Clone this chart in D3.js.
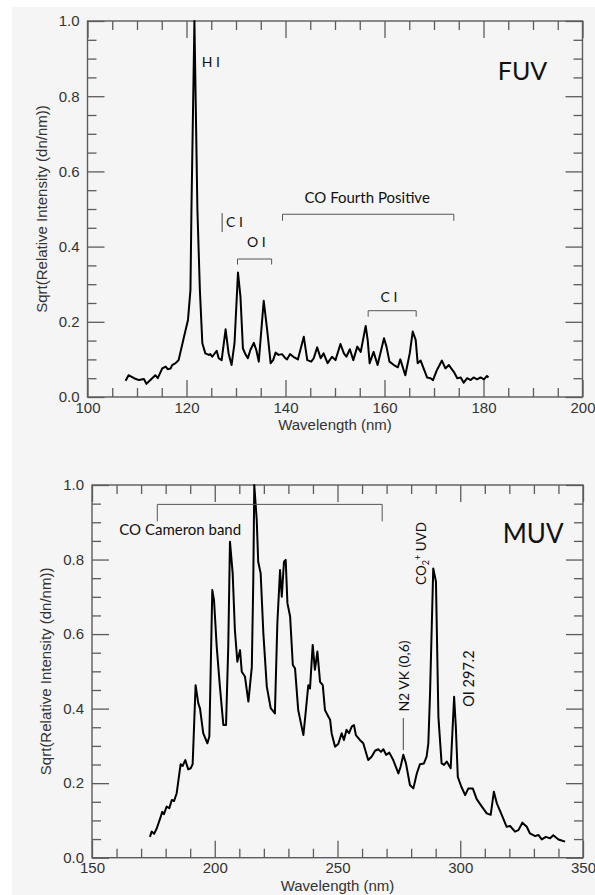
<!DOCTYPE html>
<html>
<head>
<meta charset="utf-8">
<script src="https://cdn.jsdelivr.net/npm/d3@7"></script>
<style>
	body { margin: 0; background: #fff; }
	svg { display: block; }
	.tick text { font-family: "Liberation Sans", Arial, sans-serif; font-size: 15px; fill: #333; }
	.tick line { stroke: #5c5c5c; stroke-width: 1.3; }
	.note { font-family: Lato, "Open Sans", sans-serif; fill: #111; }
</style>
</head>
<body>
<script>

// FUV spectrum
var fuvWave = [107.7, 108.3, 109.4, 110.4, 111.4, 111.9, 112.7, 113.7, 114.2, 115.1, 115.8, 116.2, 116.8, 117.1, 117.8, 118.4, 119.5, 120.3, 120.8, 121.0, 121.6, 122.2, 122.7, 123.2, 123.8, 124.5, 124.8, 125.2, 126.1, 126.5, 127.1, 127.9, 128.5, 129.1, 129.7, 130.4, 130.9, 131.4, 131.9, 132.4, 132.9, 133.6, 134.1, 134.6, 135.6, 136.3, 137.0, 137.5, 138.0, 138.6, 139.3, 140.0, 140.3, 140.9, 141.6, 142.5, 143.7, 144.4, 145.2, 145.7, 146.4, 147.1, 147.7, 148.5, 149.4, 150.1, 151.1, 151.8, 152.3, 153.0, 153.7, 154.5, 155.2, 156.2, 156.6, 157.0, 157.8, 158.6, 159.9, 160.4, 161.0, 161.9, 162.7, 163.2, 164.2, 165.1, 165.7, 166.3, 166.7, 167.3, 167.9, 168.6, 169.3, 169.8, 170.6, 171.6, 172.3, 173.0, 174.0, 174.7, 175.4, 176.0, 176.7, 177.4, 178.0, 178.7, 179.4, 180.1, 180.7, 181.0];
var fuvValue = [0.043, 0.058, 0.050, 0.045, 0.048, 0.035, 0.045, 0.058, 0.050, 0.076, 0.081, 0.074, 0.076, 0.085, 0.090, 0.098, 0.160, 0.205, 0.285, 0.50, 1.00, 0.50, 0.285, 0.143, 0.116, 0.112, 0.114, 0.107, 0.123, 0.103, 0.098, 0.180, 0.116, 0.085, 0.143, 0.331, 0.267, 0.129, 0.114, 0.103, 0.125, 0.144, 0.125, 0.094, 0.256, 0.178, 0.090, 0.098, 0.118, 0.112, 0.114, 0.103, 0.100, 0.114, 0.107, 0.100, 0.160, 0.098, 0.094, 0.103, 0.132, 0.103, 0.116, 0.090, 0.107, 0.098, 0.141, 0.116, 0.107, 0.127, 0.098, 0.134, 0.120, 0.189, 0.152, 0.090, 0.120, 0.085, 0.156, 0.134, 0.094, 0.085, 0.079, 0.100, 0.058, 0.116, 0.174, 0.152, 0.090, 0.097, 0.076, 0.052, 0.050, 0.045, 0.072, 0.097, 0.076, 0.085, 0.067, 0.050, 0.052, 0.038, 0.050, 0.045, 0.052, 0.047, 0.052, 0.047, 0.056, 0.052];

// MUV spectrum
var muvWave = [173.6, 174.3, 175.3, 176.4, 177.8, 178.6, 179.3, 180.4, 181.5, 182.5, 183.4, 184.5, 186.1, 186.9, 188.0, 189.2, 190.2, 191.0, 192.2, 193.3, 194.0, 195.3, 197.0, 197.8, 199.0, 199.7, 200.8, 202.1, 203.5, 204.6, 205.5, 206.2, 207.3, 208.2, 209.2, 210.3, 211.0, 212.3, 213.7, 215.1, 215.7, 216.1, 217.1, 217.7, 218.7, 219.8, 221.2, 222.8, 224.5, 225.5, 226.6, 227.3, 228.2, 228.9, 229.6, 230.7, 231.8, 232.7, 234.0, 236.1, 237.0, 238.1, 238.8, 239.9, 240.8, 241.8, 242.9, 244.0, 244.9, 246.3, 247.0, 247.6, 249.0, 250.3, 251.7, 252.6, 253.7, 254.7, 255.8, 256.7, 257.5, 259.1, 260.5, 262.5, 263.9, 265.3, 266.6, 267.7, 268.7, 269.8, 271.1, 272.7, 274.8, 275.7, 276.8, 277.9, 279.5, 280.9, 282.3, 283.6, 285.2, 286.3, 287.0, 287.7, 289.0, 290.1, 291.1, 292.4, 293.4, 294.5, 296.1, 297.5, 298.2, 299.0, 300.4, 302.0, 303.3, 305.1, 306.7, 308.8, 310.8, 312.4, 313.7, 314.9, 316.9, 318.9, 320.3, 322.3, 323.7, 325.3, 327.1, 328.4, 330.5, 331.8, 333.2, 334.9, 336.6, 337.9, 340.0, 341.3, 342.7];
var muvValue = [0.056, 0.070, 0.064, 0.079, 0.106, 0.123, 0.117, 0.137, 0.133, 0.155, 0.152, 0.173, 0.251, 0.246, 0.262, 0.237, 0.240, 0.251, 0.463, 0.414, 0.400, 0.334, 0.307, 0.325, 0.718, 0.691, 0.566, 0.459, 0.356, 0.356, 0.566, 0.848, 0.763, 0.611, 0.526, 0.557, 0.499, 0.486, 0.419, 0.512, 0.745, 1.000, 0.906, 0.794, 0.763, 0.602, 0.459, 0.401, 0.387, 0.629, 0.772, 0.700, 0.794, 0.799, 0.683, 0.647, 0.517, 0.508, 0.396, 0.329, 0.387, 0.463, 0.454, 0.571, 0.504, 0.553, 0.472, 0.463, 0.396, 0.378, 0.370, 0.334, 0.298, 0.305, 0.334, 0.316, 0.343, 0.334, 0.352, 0.356, 0.329, 0.316, 0.307, 0.262, 0.271, 0.287, 0.291, 0.284, 0.291, 0.276, 0.282, 0.262, 0.226, 0.244, 0.276, 0.253, 0.195, 0.186, 0.226, 0.251, 0.253, 0.271, 0.307, 0.441, 0.776, 0.741, 0.378, 0.253, 0.249, 0.258, 0.240, 0.432, 0.351, 0.217, 0.191, 0.168, 0.186, 0.186, 0.157, 0.137, 0.119, 0.115, 0.177, 0.146, 0.115, 0.083, 0.085, 0.070, 0.074, 0.094, 0.083, 0.065, 0.058, 0.061, 0.049, 0.056, 0.052, 0.060, 0.049, 0.046, 0.043];

var yTicks = [0, 0.2, 0.4, 0.6, 0.8, 1.0];
var fuvTicks = [100, 120, 140, 160, 180, 200];
var muvTicks = [150, 200, 250, 300, 350];

var width = 595,
	height = 895;

var svg = d3.select('body')
	.append('svg')
	.attr('width', width)
	.attr('height', height);

svg.append('rect')
	.attr('x', 12)
	.attr('y', 7)
	.attr('width', width - 12)
	.attr('height', height - 7)
	.attr('fill', '#f5f5f5');

var fuv = drawPanel({
	wave: fuvWave, value: fuvValue, ticks: fuvTicks, minorStep: 5,
	left: 87.5, right: 582.5, top: 21, bottom: 397
});

var muv = drawPanel({
	wave: muvWave, value: muvValue, ticks: muvTicks, minorStep: 10,
	left: 92, right: 583, top: 485, bottom: 857.7
});

// FUV notes
note(fuv, 'H I', 123.1, 0.878, 14, 'start');
note(fuv, 'FUV', 182.9, 0.843, 25, 'start');
vbar(fuv, 127.2, 0.439, 0.489);
note(fuv, 'C I', 128.0, 0.453, 14, 'start');
note(fuv, 'O I', 132.2, 0.400, 14, 'start');
bracket(fuv, 130.3, 137.2, 0.367, 5.5);
note(fuv, 'CO Fourth Positive', 156.5, 0.516, 15, 'middle');
bracket(fuv, 139.4, 174.0, 0.486, 6.5);
note(fuv, 'C I', 159.2, 0.253, 14, 'start');
bracket(fuv, 156.7, 166.4, 0.2295, 6);

// MUV notes
bracket(muv, 176.6, 268.2, 0.948, 17);
note(muv, 'CO Cameron band', 161.1, 0.866, 15, 'start');
note(muv, 'MUV', 317.3, 0.844, 26, 'start');
vnote(muv, [['N2 VK (0,6)']], 279.0, 0.392, 14);
vbar(muv, 276.8, 0.289, 0.375);
vnote(muv, [['OI 297.2']], 305.8, 0.405, 14.5);
vnote(muv, [['CO'], ['2', 3.5], ['+', -8], [' UVD', 4.5]], 286.0, 0.732, 13.5);

function drawPanel(p) {
	var g = svg.append('g');

	var x = d3.scaleLinear()
		.domain([p.ticks[0], p.ticks[p.ticks.length - 1]])
		.range([p.left, p.right]);
	var y = d3.scaleLinear()
		.domain([0, 1])
		.range([p.bottom, p.top]);

	var minorX = d3.range(x.domain()[0], x.domain()[1] + 0.1, p.minorStep)
		.filter(function(d) { return p.ticks.indexOf(d) < 0; });
	var minorY = d3.range(0, 1.01, 0.05)
		.filter(function(d) { return Math.round(d * 100) % 20 != 0; });

	// major + minor ticks on all four sides, pointing inward
	addAxis(d3.axisBottom(x).tickValues(p.ticks).tickSizeInner(-17).tickPadding(5).tickFormat(d3.format('d')), 0, p.bottom);
	addAxis(d3.axisBottom(x).tickValues(minorX).tickSizeInner(-9).tickFormat(''), 0, p.bottom);
	addAxis(d3.axisTop(x).tickValues(p.ticks).tickSizeInner(-17).tickFormat(''), 0, p.top);
	addAxis(d3.axisTop(x).tickValues(minorX).tickSizeInner(-9).tickFormat(''), 0, p.top);
	addAxis(d3.axisLeft(y).tickValues(yTicks).tickSizeInner(-17).tickPadding(8).tickFormat(d3.format('.1f')), p.left, 0);
	addAxis(d3.axisLeft(y).tickValues(minorY).tickSizeInner(-9).tickFormat(''), p.left, 0);
	addAxis(d3.axisRight(y).tickValues(yTicks).tickSizeInner(-17).tickFormat(''), p.right, 0);
	addAxis(d3.axisRight(y).tickValues(minorY).tickSizeInner(-9).tickFormat(''), p.right, 0);

	g.append('rect')
		.attr('x', p.left)
		.attr('y', p.top)
		.attr('width', p.right - p.left)
		.attr('height', p.bottom - p.top)
		.attr('fill', 'none')
		.attr('stroke', '#5c5c5c')
		.attr('stroke-width', 1.4);

	g.append('text')
		.attr('x', (p.left + p.right) / 2)
		.attr('y', p.bottom + 33)
		.attr('text-anchor', 'middle')
		.style('font-family', '"Liberation Sans", Arial, sans-serif')
		.style('font-size', '15px')
		.attr('fill', '#333')
		.text('Wavelength (nm)');

	g.append('text')
		.attr('transform', 'translate(' + (p.left - 41) + ',' + (p.top + p.bottom) / 2 + ') rotate(-90)')
		.attr('text-anchor', 'middle')
		.style('font-family', '"Liberation Sans", Arial, sans-serif')
		.style('font-size', '15px')
		.attr('fill', '#333')
		.text('Sqrt(Relative Intensity (dn/nm))');

	var line = d3.line()
		.x(function(d, i) { return x(p.wave[i]); })
		.y(function(d) { return y(d); });

	g.append('path')
		.datum(p.value)
		.attr('d', line)
		.attr('fill', 'none')
		.attr('stroke', '#000')
		.attr('stroke-width', 2)
		.attr('stroke-linejoin', 'round');

	function addAxis(axis, tx, ty) {
		var a = g.append('g')
			.attr('transform', 'translate(' + tx + ',' + ty + ')')
			.call(axis);
		a.select('.domain').remove();
		a.attr('font-size', null).attr('font-family', null);
	}

	return { g: g, x: x, y: y };
}

function note(p, label, wl, v, size, anchor) {
	p.g.append('text')
		.attr('class', 'note')
		.attr('x', p.x(wl))
		.attr('y', p.y(v))
		.attr('text-anchor', anchor)
		.style('font-size', size + 'px')
		.text(label);
}

function vnote(p, parts, wl, v, size) {
	var t = p.g.append('text')
		.attr('class', 'note')
		.attr('transform', 'translate(' + p.x(wl) + ',' + p.y(v) + ') rotate(-90)')
		.style('font-size', size + 'px');
	parts.forEach(function(d) {
		var s = t.append('tspan').text(d[0]);
		if (d[1]) s.attr('dy', d[1]);
		if (d[0] == '2' || d[0] == '+') s.style('font-size', '9px');
	});
}

function vbar(p, wl, v0, v1) {
	p.g.append('line')
		.attr('x1', p.x(wl)).attr('x2', p.x(wl))
		.attr('y1', p.y(v0)).attr('y2', p.y(v1))
		.attr('stroke', '#444')
		.attr('stroke-width', 1);
}

// horizontal bracket with legs hanging down
function bracket(p, w0, w1, v, leg) {
	var yy = p.y(v);
	p.g.append('path')
		.attr('d', 'M' + p.x(w0) + ',' + (yy + leg) + 'V' + yy + 'H' + p.x(w1) + 'V' + (yy + leg))
		.attr('fill', 'none')
		.attr('stroke', '#555')
		.attr('stroke-width', 1);
}

</script>
</body>
</html>
